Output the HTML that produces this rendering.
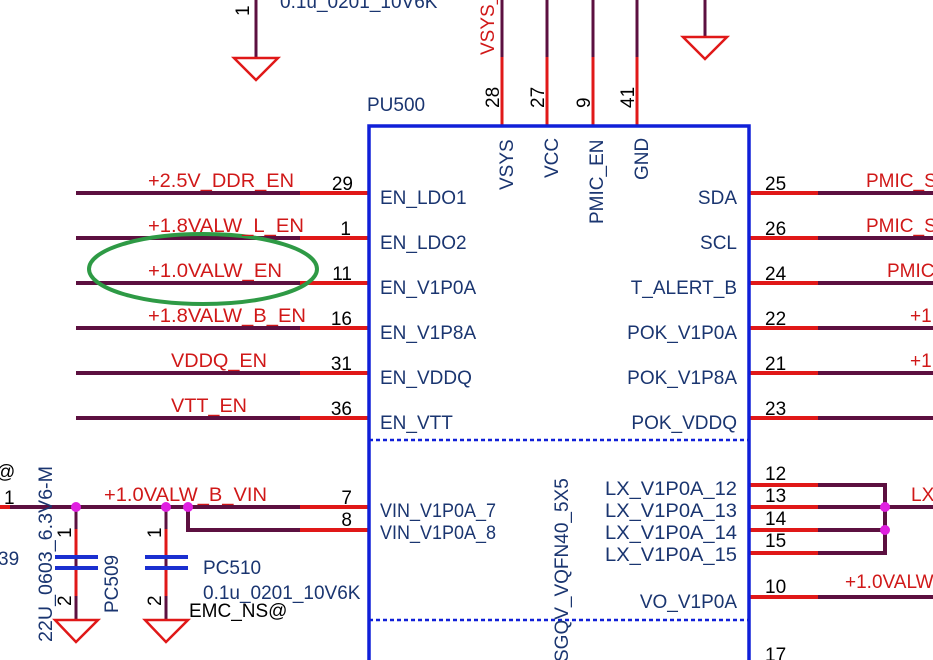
<!DOCTYPE html>
<html><head><style>
html,body{margin:0;padding:0;background:#fff;}
svg{display:block;font-family:"Liberation Sans",Arial,sans-serif;}
.r{fill:#d01818;font-size:19px;}
.b{fill:#1a3570;font-size:19px;}
.k{fill:#000;font-size:19px;}
</style></head><body>
<svg width="933" height="660" viewBox="0 0 933 660" xmlns="http://www.w3.org/2000/svg">
<g stroke-width="3" fill="none">
<line x1="256" y1="0" x2="256" y2="58" stroke="#5c1040"/>
<polygon points="234,58 278,58 256,80" stroke="#e01818" stroke-width="2.5"/>
<line x1="705" y1="0" x2="705" y2="37" stroke="#5c1040"/>
<polygon points="683,37 727,37 705,59" stroke="#e01818" stroke-width="2.5"/>
<g stroke="#5c1040">
<line x1="502" y1="0" x2="502" y2="57"/><line x1="547" y1="0" x2="547" y2="57"/>
<line x1="593" y1="0" x2="593" y2="57"/><line x1="637" y1="0" x2="637" y2="57"/>
</g>
<g stroke="#e01818">
<line x1="502" y1="57" x2="502" y2="126"/><line x1="547" y1="57" x2="547" y2="126"/>
<line x1="593" y1="57" x2="593" y2="126"/><line x1="637" y1="57" x2="637" y2="126"/>
</g>
<g stroke="#5c1040" stroke-width="4">
<line x1="76" y1="193" x2="300" y2="193"/><line x1="76" y1="238" x2="300" y2="238"/>
<line x1="76" y1="283" x2="300" y2="283"/><line x1="76" y1="328" x2="300" y2="328"/>
<line x1="76" y1="373" x2="300" y2="373"/><line x1="76" y1="418" x2="300" y2="418"/>
<line x1="0" y1="507" x2="300" y2="507"/>
<polyline points="188,507 188,530 300,530"/>
</g>
<g stroke="#e01818" stroke-width="4">
<line x1="300" y1="193" x2="369" y2="193"/><line x1="300" y1="238" x2="369" y2="238"/>
<line x1="300" y1="283" x2="369" y2="283"/><line x1="300" y1="328" x2="369" y2="328"/>
<line x1="300" y1="373" x2="369" y2="373"/><line x1="300" y1="418" x2="369" y2="418"/>
<line x1="300" y1="507" x2="369" y2="507"/><line x1="300" y1="530" x2="369" y2="530"/>
<line x1="0" y1="507" x2="10" y2="507"/>
</g>
<g stroke="#5c1040" stroke-width="4">
<line x1="818" y1="193" x2="933" y2="193"/><line x1="818" y1="238" x2="933" y2="238"/>
<line x1="818" y1="283" x2="933" y2="283"/><line x1="818" y1="328" x2="933" y2="328"/>
<line x1="818" y1="373" x2="933" y2="373"/><line x1="818" y1="418" x2="933" y2="418"/>
<polyline points="818,485 885,485 885,553 818,553"/>
<line x1="818" y1="507" x2="933" y2="507"/><line x1="818" y1="530" x2="885" y2="530"/>
<line x1="818" y1="597" x2="933" y2="597"/>
</g>
<g stroke="#e01818" stroke-width="4">
<line x1="749" y1="193" x2="818" y2="193"/><line x1="749" y1="238" x2="818" y2="238"/>
<line x1="749" y1="283" x2="818" y2="283"/><line x1="749" y1="328" x2="818" y2="328"/>
<line x1="749" y1="373" x2="818" y2="373"/><line x1="749" y1="418" x2="818" y2="418"/>
<line x1="749" y1="485" x2="818" y2="485"/><line x1="749" y1="507" x2="818" y2="507"/>
<line x1="749" y1="530" x2="818" y2="530"/><line x1="749" y1="553" x2="818" y2="553"/>
<line x1="749" y1="597" x2="818" y2="597"/>
</g>
<g stroke="#5c1040"><line x1="76" y1="507" x2="76" y2="620"/><line x1="166" y1="507" x2="166" y2="620"/></g>
<g stroke="#e01818"><line x1="76" y1="529" x2="76" y2="556"/><line x1="76" y1="569" x2="76" y2="596"/>
<line x1="166" y1="529" x2="166" y2="556"/><line x1="166" y1="569" x2="166" y2="596"/></g>
<g stroke="#1a2fd0" stroke-width="4">
<line x1="55" y1="557" x2="98" y2="557"/><line x1="55" y1="568" x2="98" y2="568"/>
<line x1="145" y1="557" x2="188" y2="557"/><line x1="145" y1="568" x2="188" y2="568"/>
</g>
<polygon points="55,620 98,620 76,642" stroke="#e01818" stroke-width="2.5" fill="#fff"/>
<polygon points="145,620 188,620 166,642" stroke="#e01818" stroke-width="2.5" fill="#fff"/>
<polyline points="369,662 369,126 749,126 749,662" stroke="#1020d8" stroke-width="3.5"/>
<line x1="369" y1="440" x2="749" y2="440" stroke="#1020d8" stroke-width="2.5" stroke-dasharray="4,3"/>
<line x1="369" y1="620" x2="749" y2="620" stroke="#1020d8" stroke-width="2.5" stroke-dasharray="4,3"/>
<ellipse cx="203" cy="269" rx="114" ry="35" stroke="#2e9a45" stroke-width="4"/>
</g>
<g fill="#e020e0">
<circle cx="76" cy="507" r="5"/><circle cx="166" cy="507" r="5"/><circle cx="188" cy="507" r="5"/>
<circle cx="885" cy="507" r="5"/><circle cx="885" cy="530" r="5"/>
</g>
<text class="b" x="367" y="111">PU500</text>
<g class="r" lengthAdjust="spacingAndGlyphs">
<text x="148" y="187" textLength="146" lengthAdjust="spacingAndGlyphs">+2.5V_DDR_EN</text>
<text x="148" y="232" textLength="156" lengthAdjust="spacingAndGlyphs">+1.8VALW_L_EN</text>
<text x="148" y="277" textLength="134" lengthAdjust="spacingAndGlyphs">+1.0VALW_EN</text>
<text x="148" y="322" textLength="158" lengthAdjust="spacingAndGlyphs">+1.8VALW_B_EN</text>
<text x="171" y="367" textLength="96" lengthAdjust="spacingAndGlyphs">VDDQ_EN</text>
<text x="171" y="412" textLength="76" lengthAdjust="spacingAndGlyphs">VTT_EN</text>
<text x="104" y="501" textLength="163" lengthAdjust="spacingAndGlyphs">+1.0VALW_B_VIN</text>
</g>
<g class="k" text-anchor="end">
<text x="353" y="190">29</text><text x="351" y="235">1</text><text x="352" y="280">11</text>
<text x="352" y="325">16</text><text x="352" y="370">31</text><text x="352" y="415">36</text>
<text x="352" y="504">7</text><text x="352" y="526">8</text>
</g>
<g class="k">
<text x="765" y="190">25</text><text x="765" y="235">26</text><text x="765" y="280">24</text>
<text x="765" y="325">22</text><text x="765" y="370">21</text><text x="765" y="415">23</text>
<text x="765" y="480">12</text><text x="765" y="502">13</text><text x="765" y="525">14</text>
<text x="765" y="547">15</text><text x="765" y="593">10</text><text x="765" y="661">17</text>
<text x="4" y="504">1</text><text x="-4" y="478">@</text>
<text x="189" y="617">EMC_NS@</text>
</g>
<g class="b">
<text x="380" y="204">EN_LDO1</text><text x="380" y="249">EN_LDO2</text>
<text x="380" y="294">EN_V1P0A</text><text x="380" y="339">EN_V1P8A</text>
<text x="380" y="384">EN_VDDQ</text><text x="380" y="429">EN_VTT</text>
<text x="380" y="517" textLength="116" lengthAdjust="spacingAndGlyphs">VIN_V1P0A_7</text>
<text x="380" y="539" textLength="116" lengthAdjust="spacingAndGlyphs">VIN_V1P0A_8</text>
<text x="203" y="574">PC510</text><text x="203" y="599">0.1u_0201_10V6K</text>
<text x="-2" y="565">39</text>
<text x="280" y="8">0.1u_0201_10V6K</text>
</g>
<g class="b" text-anchor="end">
<text x="737" y="204">SDA</text><text x="737" y="249">SCL</text><text x="737" y="294">T_ALERT_B</text>
<text x="737" y="339">POK_V1P0A</text><text x="737" y="384">POK_V1P8A</text><text x="737" y="429">POK_VDDQ</text>
<text x="737" y="495" textLength="132" lengthAdjust="spacingAndGlyphs">LX_V1P0A_12</text>
<text x="737" y="517" textLength="132" lengthAdjust="spacingAndGlyphs">LX_V1P0A_13</text>
<text x="737" y="539" textLength="132" lengthAdjust="spacingAndGlyphs">LX_V1P0A_14</text>
<text x="737" y="561" textLength="132" lengthAdjust="spacingAndGlyphs">LX_V1P0A_15</text>
<text x="737" y="608">VO_V1P0A</text>
</g>
<g class="r">
<text x="866" y="187">PMIC_S</text><text x="866" y="232">PMIC_S</text><text x="887" y="277">PMIC</text>
<text x="910" y="322">+1</text><text x="910" y="367">+1</text>
<text x="911" y="501">LX</text><text x="845" y="588">+1.0VALW</text>
</g>
<g class="b">
<text transform="translate(513,190) rotate(-90)">VSYS</text>
<text transform="translate(558,178) rotate(-90)">VCC</text>
<text transform="translate(603,224) rotate(-90)">PMIC_EN</text>
<text transform="translate(648,180) rotate(-90)">GND</text>
<text transform="translate(568,662) rotate(-90)">SGQV_VQFN40_5X5</text>
<text transform="translate(52,642) rotate(-90)" textLength="176" lengthAdjust="spacingAndGlyphs">22U_0603_6.3V6-M</text>
<text transform="translate(118,613) rotate(-90)">PC509</text>
</g>
<g class="k">
<text transform="translate(499,108) rotate(-90)">28</text>
<text transform="translate(544,108) rotate(-90)">27</text>
<text transform="translate(590,108) rotate(-90)">9</text>
<text transform="translate(634,108) rotate(-90)">41</text>
<text transform="translate(249,16) rotate(-90)">1</text>
<text transform="translate(71,538) rotate(-90)">1</text>
<text transform="translate(71,606) rotate(-90)">2</text>
<text transform="translate(161,538) rotate(-90)">1</text>
<text transform="translate(161,606) rotate(-90)">2</text>
</g>
<text class="r" transform="translate(494,55) rotate(-90)">VSYS_</text>
</svg>
</body></html>
